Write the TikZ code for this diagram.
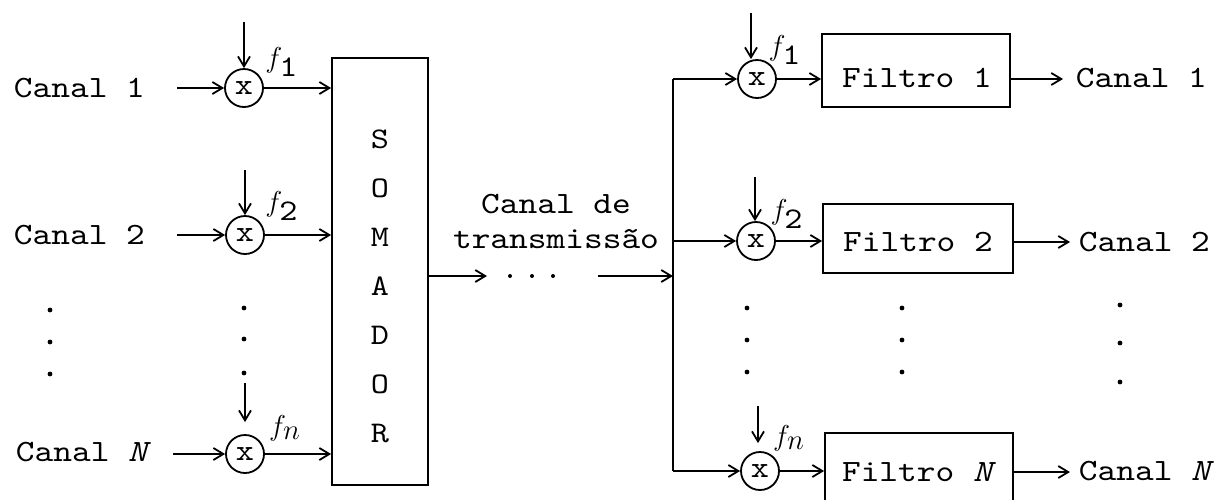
\documentclass[tikz,border=0pt]{standalone}
\usepackage{fontspec}
\setmonofont[FakeStretch=1.15,ItalicFont=lmmono10-italic.otf]{lmmono10-regular.otf}
\usetikzlibrary{arrows.meta}
\begin{document}
\begin{tikzpicture}[x=0.5pt,y=-0.5pt,
  line width=0.9pt,
  arr/.style={-{Straight Barb[length=5pt,width=6pt]}},
  mix/.style={circle,draw,minimum size=19pt,inner sep=0pt,font=\ttfamily\fontsize{15}{18}\selectfont},
  txt/.style={inner sep=0pt,font=\ttfamily\fontsize{15.5}{18}\selectfont},
  flab/.style={inner sep=0pt,font=\fontsize{15}{18}\selectfont},
  blk/.style={draw,rectangle,inner sep=0pt}]
\useasboundingbox (0,0) rectangle (1216,499);
\clip (0,0) rectangle (1216,499);
% ---------- left side ----------
\node[txt,anchor=west] (c1) at (13,88) {Canal 1};
\node[txt,anchor=west] (c2) at (13,235) {Canal 2};
\node[txt,anchor=west] (cN) at (15,452) {Canal \textit{N}};
\node[mix] (m1) at (244,88) {x};
\node[mix] (m2) at (245,235) {x};
\node[mix] (mN) at (245,454) {x};
\coordinate (a1) at (177,88);
\coordinate (a2) at (177,235);
\coordinate (aN) at (173,454);
\draw[arr] (a1) -- (m1);
\draw[arr] (a2) -- (m2);
\draw[arr] (aN) -- (mN);
\coordinate (v1) at (244,22);
\coordinate (v2) at (245,170);
\coordinate (vN) at (245,383);
\draw[arr] (v1) -- (m1.north);
\draw[arr] (v2) -- (m2.north);
\draw[arr,shorten >=6pt] (vN) -- (mN.north);
\node[flab] (lf1) at (282,62) {$f_{\mbox{\ttfamily 1}}$};
\node[flab] (lf2) at (282,206) {$f_{\mbox{\ttfamily 2}}$};
\node[flab] (lfN) at (285,428) {$f_{\mbox{$n$}}$};
\foreach \y in {310,342,374} \fill (50,\y) circle (1.2pt);
\foreach \y in {308,339,373} \fill (244,\y) circle (1.2pt);
% ---------- somador ----------
\node[blk,minimum width=48pt,minimum height=213.5pt] (som) at (380,271.5) {};
\node[txt,align=center,font=\ttfamily\fontsize{15}{24.5}\selectfont] (somt) at (380,286.5) {S\\O\\M\\A\\D\\O\\R};
\draw[arr] (m1) -- (som.west |- m1);
\draw[arr] (m2) -- (som.west |- m2);
\draw[arr] (mN) -- (som.west |- mN);
\coordinate (yo) at (0,276);
\coordinate (sa) at (487,276);
\draw[arr] (som.east |- yo) -- (sa);
\foreach \x in {510,532,553} \fill (\x,276) circle (1pt);
\coordinate (sb) at (598,276);
\coordinate (bm) at (673,276);
\draw[arr] (sb) -- (bm);
\node[txt,align=center,font=\ttfamily\fontsize{15.5}{17.5}\selectfont] (lbl) at (556,221) {Canal de\\transmissão};
% ---------- right side ----------
\node[mix] (r1) at (757,79) {x};
\node[mix] (r2) at (756,241) {x};
\node[mix] (rN) at (760,471) {x};
\coordinate (bt) at (673,79);
\coordinate (b2) at (673,241);
\coordinate (bb) at (673,471);
\draw (bt) -- (bb);
\draw[arr] (bt) -- (r1);
\draw[arr] (b2) -- (r2);
\draw[arr] (bb) -- (rN);
\coordinate (w1) at (751,13);
\coordinate (w2) at (755,177);
\coordinate (wN) at (758,406);
\draw[arr] (w1) -- (w1 |- r1.north);
\draw[arr] (w2) -- (w2 |- r2.north);
\draw[arr,shorten >=4pt] (wN) -- (wN |- rN.north);
\node[flab] (rf1) at (785,50) {$f_{\mbox{\ttfamily 1}}$};
\node[flab] (rf2) at (787,214) {$f_{\mbox{\ttfamily 2}}$};
\node[flab] (rfN) at (789,438) {$f_{\mbox{$n$}}$};
\node[blk,minimum width=94pt,minimum height=36.5pt] (F1) at (916,70.5) {};
\node[blk,minimum width=95pt,minimum height=34.5pt] (F2) at (918,238.5) {};
\node[blk,minimum width=94pt,minimum height=37pt] (FN) at (919,470) {};
\node[txt] (F1t) at (917,78) {Filtro 1};
\node[txt] (F2t) at (918,242) {Filtro 2};
\node[txt] (FNt) at (919,472) {Filtro \textit{N}};
\draw[arr] (r1) -- (F1.west |- r1);
\draw[arr] (r2) -- (F2.west |- r2);
\draw[arr] (rN) -- (FN.west |- rN);
\coordinate (o1) at (1063,79);
\coordinate (o2) at (1070,242);
\coordinate (oN) at (1070,472);
\draw[arr] (F1.east |- o1) -- (o1);
\draw[arr] (F2.east |- o2) -- (o2);
\draw[arr] (FN.east |- oN) -- (oN);
\node[txt,anchor=west] (oc1) at (1075,78) {Canal 1};
\node[txt,anchor=west] (oc2) at (1078,242) {Canal 2};
\node[txt,anchor=west] (ocN) at (1078,471) {Canal \textit{N}};
\foreach \y in {308,340,372} {\fill (747,\y) circle (1.2pt); \fill (902,\y) circle (1.2pt);}
\foreach \y in {305,343,382} \fill (1120,\y) circle (1.2pt);
\end{tikzpicture}
\end{document}
